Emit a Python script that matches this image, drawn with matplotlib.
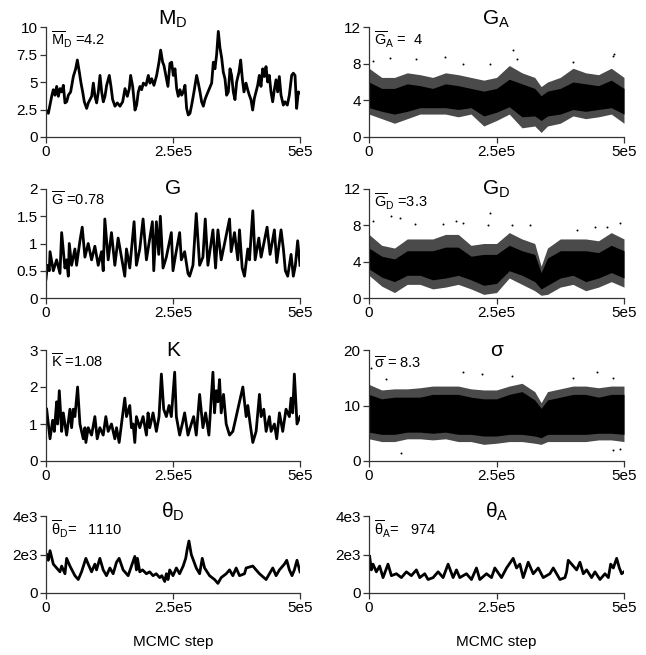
import matplotlib
matplotlib.use("Agg")
import matplotlib.pyplot as plt
import numpy as np

plt.rcParams['font.family'] = ['Liberation Sans', 'DejaVu Sans']
plt.rcParams['mathtext.fontset'] = 'custom'
plt.rcParams['mathtext.rm'] = 'Liberation Sans'
plt.rcParams['mathtext.it'] = 'Liberation Sans'
plt.rcParams['mathtext.bf'] = 'Liberation Sans:bold'

# ---------------- data (MCMC step in thousands) ----------------
md_steps = [0, 4.6, 7.9, 11.2, 14.4, 17.7, 21.0, 24.3, 27.6, 30.8, 34.1, 37.4, 40.7, 44.0, 48.5, 53.8,
            58.4, 61.7, 65.6, 68.9, 72.2, 75.4, 80.0, 83.3, 86.6, 89.9, 93.2, 96.4, 99.7, 103.0, 106.3,
            109.6, 112.8, 116.1, 119.4, 124.6, 127.9, 131.2, 135.8, 140.4, 145.6, 150.9, 155.5, 160.1,
            164.0, 166.6, 170.6, 175.2, 178.4, 181.7, 185.0, 188.3, 191.6, 196.8, 201.4, 204.7, 208.0,
            212.5, 217.8, 222.4, 225.7, 229.6, 232.2, 236.2, 240.0,
            244.0, 247.3, 250.6, 253.9, 257.2, 260.4, 263.7, 267.0, 270.3, 273.6, 276.8, 280.1, 283.4,
            286.7, 291.3, 296.5, 299.8, 303.1, 306.4, 309.7, 312.9, 316.2, 321.5, 326.1, 329.4, 332.6,
            335.9, 339.2, 342.5, 345.8, 349.0, 352.3, 355.6, 358.9, 362.2, 365.4, 368.7, 372.0, 375.3,
            379.9, 383.2, 386.5, 389.7, 393.7, 397.0, 400.3, 403.5, 406.8, 410.1, 413.4, 416.7, 419.9,
            423.2, 426.5, 429.8, 433.1, 436.3, 439.6, 442.9, 446.2, 449.5, 452.8, 456.0, 459.3, 462.6,
            467.2, 470.4, 475.0, 479.0, 483.6, 486.9, 490.2, 493.4, 496.7, 500]
md_vals = [2.45, 2.15, 2.9, 3.7, 4.3, 3.8, 4.6, 3.7, 4.4, 4.1, 4.7, 3.1, 3.2, 3.8, 4.1, 5.5, 6.2, 7.0,
           5.9, 4.9, 4.1, 3.2, 2.6, 3.1, 3.4, 3.7, 4.9, 3.7, 3.1, 4.1, 5.6, 4.1, 3.2, 3.7, 4.7, 5.6,
           4.6, 3.4, 2.8, 3.1, 2.8, 3.2, 4.4, 3.7, 4.4, 5.6, 4.6, 2.45, 2.9, 4.1, 4.6, 4.3, 4.9, 4.7,
           5.6, 4.9, 5.3, 4.7, 5.6, 6.8, 7.9, 6.8, 6.5, 5.5, 4.6,
           6.7, 6.8, 5.6, 6.2, 4.4, 3.7, 4.3, 3.8, 4.1, 4.7, 2.6, 2.0, 2.15, 2.9, 4.1, 5.6, 4.9, 4.1,
           3.2, 2.8, 3.4, 3.8, 4.4, 4.9, 6.8, 6.2, 7.5, 9.6, 8.1, 7.2, 5.9, 5.3, 3.8, 4.1, 6.2, 5.6,
           4.1, 3.4, 5.0, 5.9, 7.0, 5.3, 4.1, 4.9, 4.3, 3.8, 3.4, 2.45, 3.5, 4.1, 4.7, 5.6, 4.6, 6.2,
           5.5, 6.4, 5.0, 5.6, 4.1, 3.2, 4.3, 5.2, 4.1, 5.5, 3.8, 2.9, 3.2, 2.9, 3.8, 5.6, 5.8, 5.6,
           2.6, 4.1, 4.0]

g_steps = [0, 2.6, 6.5, 7.9, 14.4, 20.9, 27.5, 30.8, 37.3, 40.6, 43.9, 45.8, 50.4, 56.9, 60.2, 66.8,
           71.3, 76.6, 83.1, 89.7, 96.2, 102.8, 109.3, 112.6, 115.8, 122.4, 128.9, 135.5, 142.0, 155.1,
           158.4, 164.9, 173.4, 178.0, 184.6, 191.1, 197.7, 209.4, 212.1, 217.3, 221.9, 225.1, 230.4,
           236.9, 246.7, 250.0, 255.3, 263.1, 266.4, 272.9, 279.5, 282.7, 289.3, 295.8, 302.4, 308.9,
           313.5, 318.7, 328.6, 333.8, 338.4, 344.9, 351.5, 361.3, 364.5, 371.1, 377.6, 380.9, 386.2,
           390.7, 397.2, 400.6, 407.1, 411.7, 418.9, 423.4, 435.2, 441.1, 449.6, 454.2, 462.7, 467.3,
           471.2, 475.8, 482.4, 486.9, 490.9, 495.4, 500]
g_vals = [0.35, 0.6, 0.5, 0.85, 0.5, 0.7, 0.45, 1.2, 0.55, 0.7, 0.4, 1.0, 0.6, 0.9, 0.6, 1.05, 1.3,
          0.75, 1.0, 0.7, 0.95, 0.6, 0.85, 0.5, 1.45, 0.7, 1.2, 0.6, 1.1, 0.4, 0.9, 0.55, 1.4, 0.6,
          0.9, 1.45, 0.7, 1.4, 0.5, 1.4, 0.8, 1.5, 0.55, 0.75, 1.2, 0.5, 0.8, 1.2, 0.7, 0.85, 0.45,
          0.4, 0.6, 1.55, 0.6, 0.75, 1.45, 0.6, 1.25, 0.55, 1.25, 0.7, 1.0, 1.45, 0.85, 1.2, 0.7,
          1.25, 0.55, 0.4, 0.9, 0.7, 1.6, 0.7, 1.1, 0.75, 1.3, 0.8, 1.25, 0.65, 1.25, 0.9, 0.5, 0.4,
          0.8, 0.4, 0.6, 1.05, 0.6]

k_steps = [1.3, 7.9, 13.1, 16.4, 20.9, 22.9, 26.2, 30.8, 34.0, 40.6, 47.1, 50.4, 53.7, 56.9, 62.2,
           66.8, 73.3, 76.6, 78.5, 83.1, 89.7, 96.2, 100.8, 106.0, 112.6, 117.8, 122.4, 128.9, 135.5,
           138.8, 144.0, 148.6, 155.1, 158.4, 164.9, 168.2, 171.5, 174.8, 178.0, 184.6, 191.1, 197.7,
           200.9, 204.2, 210.7, 217.3, 222.5, 227.1, 231.7, 236.9, 242.2, 246.7, 253.3, 256.6, 263.1,
           268.3, 272.9, 279.5, 286.0, 290.6, 295.8, 302.4, 308.9, 314.2, 320.7, 328.6, 331.8, 335.1,
           338.4, 341.6, 344.9, 349.5, 354.7, 361.3, 367.8, 374.4, 380.9, 387.5, 394.0, 397.3, 401.9,
           407.1, 413.6, 420.2, 423.5, 428.7, 433.3, 439.8, 443.1, 449.6, 454.2, 459.5, 466.0, 472.5,
           479.1, 482.4, 485.6, 488.9, 494.1, 500]
k_vals = [1.4, 0.6, 1.1, 0.8, 1.6, 1.0, 1.9, 0.8, 1.3, 0.7, 1.4, 0.9, 1.4, 1.2, 2.0, 1.0, 0.6, 0.9,
          0.5, 0.9, 0.7, 1.2, 0.6, 0.9, 0.7, 1.2, 0.8, 1.0, 0.6, 0.9, 0.5, 1.0, 1.7, 1.2, 1.5, 0.9,
          1.0, 0.5, 1.2, 0.9, 1.2, 0.7, 1.3, 0.9, 1.3, 0.8, 1.2, 2.35, 1.4, 1.2, 1.5, 1.2, 2.4, 1.2,
          0.7, 1.0, 1.3, 0.7, 1.0, 1.2, 0.7, 1.8, 0.9, 1.3, 0.7, 2.4, 1.3, 1.9, 1.6, 2.2, 1.3, 1.8,
          1.0, 0.7, 0.8, 1.2, 1.6, 2.0, 1.2, 1.5, 1.0, 0.5, 0.8, 1.8, 1.2, 1.4, 0.8, 1.2, 0.8, 1.0,
          0.6, 1.3, 0.8, 1.4, 1.2, 1.7, 1.3, 2.35, 1.0, 1.2]

thd_steps = [1.3, 4.6, 7.9, 14.4, 20.9, 27.5, 30.8, 37.3, 40.6, 47.1, 56.9, 63.5, 70.0, 78.5, 83.1,
             89.7, 96.2, 99.5, 106.0, 112.6, 119.1, 125.7, 132.2, 138.8, 144.0, 151.8, 161.7, 174.8,
             178.0, 180.0, 184.6, 190.0, 197.7, 204.0, 210.7, 217.0, 223.8, 228.0, 233.7, 236.9, 240.2,
             243.5, 250.0, 256.6, 263.0, 270.0, 275.0, 278.2, 281.4, 286.0, 295.8, 302.4, 307.6, 312.2,
             322.0, 331.8, 338.4, 344.9, 354.7, 361.3, 367.8, 374.4, 380.9, 390.7, 394.0, 407.1, 413.6,
             420.2, 433.3, 439.8, 446.4, 452.9, 459.5, 469.3, 473.9, 479.1, 484.3, 488.9, 494.1, 500]
thd_vals = [2000, 1700, 2200, 1500, 1300, 1100, 1400, 1000, 1800, 1400, 900, 700, 1100, 1800, 1500,
            1100, 1500, 1200, 1800, 1200, 900, 1300, 1000, 1600, 1800, 1200, 900, 1900, 1200, 1800,
            1100, 1200, 1000, 1100, 900, 1000, 800, 900, 600, 1000, 700, 1200, 900, 1300, 1000, 1400,
            1800, 2300, 2700, 2000, 1300, 1000, 1800, 1300, 900, 700, 500, 800, 1000, 1200, 900, 1300,
            900, 1000, 1300, 1400, 1200, 1000, 700, 1000, 1300, 900, 1200, 1500, 1700, 1200, 900,
            1200, 1700, 1100]

tha_steps = [1.3, 4.6, 7.9, 14.4, 20.9, 27.5, 37.3, 43.9, 53.7, 63.5, 73.3, 83.1, 92.9, 99.5, 109.3,
             115.8, 125.7, 135.5, 145.3, 155.1, 164.9, 171.5, 178.0, 191.1, 200.9, 210.7, 217.3, 230.4,
             240.2, 246.7, 259.8, 269.7, 282.7, 289.3, 295.8, 302.4, 312.2, 322.0, 331.8, 341.6, 354.7,
             361.3, 374.4, 384.2, 387.5, 390.7, 400.6, 407.1, 413.6, 420.2, 426.7, 436.5, 443.1, 452.9,
             462.7, 469.3, 473.9, 479.1, 485.6, 490.9, 495.4, 500]
tha_vals = [1900, 1200, 1500, 1100, 1400, 800, 1500, 900, 1000, 800, 1100, 900, 1200, 800, 1000, 700,
            800, 1100, 800, 1500, 800, 1200, 800, 1000, 700, 1300, 700, 1000, 800, 1300, 800, 1300,
            1800, 1300, 1500, 800, 1600, 1000, 1300, 800, 1000, 1300, 700, 800, 1100, 1700, 1400,
            1200, 1600, 1000, 1200, 800, 1100, 700, 1000, 800, 1500, 1300, 1800, 1300, 1000, 1100]

# dense (scatter-like) traces: envelopes
band_steps = [0, 25, 50, 75, 100, 125, 150, 175, 200, 225, 250, 275, 300, 325, 337.5, 350, 375, 400,
              425, 450, 475, 500]
ga_hi = [7.5, 6.5, 6.5, 7.0, 6.8, 6.5, 7.0, 6.8, 6.5, 6.2, 6.5, 7.8, 7.0, 6.5, 5.5, 6.0, 6.5, 7.5,
         7.0, 6.8, 7.5, 6.5]
ga_lo = [2.5, 2.0, 1.5, 2.0, 2.5, 2.5, 2.5, 2.2, 2.5, 1.2, 1.8, 2.5, 1.0, 1.2, 0.5, 1.2, 1.5, 2.3,
         2.0, 2.2, 2.5, 1.5]
ga_core_hi = [6.0, 5.3, 5.3, 5.8, 5.6, 5.3, 5.8, 5.6, 5.3, 5.0, 5.3, 6.3, 5.8, 5.3, 4.5, 5.0, 5.3,
              6.0, 5.8, 5.6, 6.2, 5.3]
ga_core_lo = [3.2, 2.8, 2.5, 2.8, 3.2, 3.2, 3.2, 3.0, 3.2, 2.3, 2.7, 3.3, 2.2, 2.3, 1.8, 2.3, 2.5,
              3.0, 2.8, 3.0, 3.2, 2.5]
ga_out_steps = [7.9, 40.6, 92.9, 148.6, 184.6, 236.9, 281.4, 289.3, 400.6, 479.1, 481.1]
ga_out_vals = [8.3, 8.6, 8.5, 8.7, 8.0, 8.0, 9.5, 8.5, 8.2, 8.8, 9.1]

gd_hi = [7.0, 5.8, 5.5, 6.5, 6.5, 6.5, 7.0, 7.0, 5.8, 6.0, 6.0, 7.2, 6.5, 6.0, 3.5, 5.5, 6.5, 6.5,
         6.5, 6.3, 7.2, 6.5]
gd_lo = [2.5, 1.3, 0.6, 1.5, 1.5, 1.0, 1.2, 1.5, 1.0, 0.4, 0.6, 2.2, 1.5, 0.8, 0.3, 0.4, 1.2, 1.5,
         0.8, 1.2, 1.8, 1.2]
gd_core_hi = [5.5, 4.6, 4.3, 5.2, 5.2, 5.2, 5.6, 5.6, 4.6, 4.8, 4.8, 5.8, 5.2, 4.8, 2.8, 4.4, 5.2,
              5.2, 5.2, 5.0, 5.8, 5.2]
gd_core_lo = [3.2, 2.3, 1.8, 2.5, 2.5, 2.0, 2.2, 2.5, 2.0, 1.4, 1.6, 3.0, 2.5, 1.8, 1.0, 1.4, 2.2,
              2.5, 1.8, 2.2, 2.8, 2.2]
gd_out_steps = [7.9, 43.9, 60.2, 89.7, 145.3, 171.5, 184.6, 233.7, 238.2, 279.5, 315.5, 407.1, 443.1,
                466.0, 492.2]
gd_out_vals = [8.5, 9.0, 8.8, 8.1, 8.2, 8.5, 8.3, 8.0, 9.4, 8.0, 8.0, 7.5, 7.8, 7.8, 8.3]

sg_hi = [13.8, 12.8, 13.0, 13.0, 13.2, 13.5, 13.5, 13.5, 13.0, 12.8, 12.8, 13.5, 14.0, 12.5, 10.5,
         12.5, 13.0, 13.5, 13.5, 13.2, 13.5, 13.5]
sg_lo = [4.0, 3.5, 3.5, 4.0, 4.0, 3.8, 4.0, 3.5, 3.5, 3.0, 3.2, 3.5, 3.5, 3.2, 3.0, 3.5, 3.5, 3.5,
         3.5, 3.8, 3.8, 3.5]
sg_core_hi = [12.0, 11.2, 11.5, 11.5, 11.5, 12.0, 12.0, 12.0, 11.5, 11.2, 11.2, 12.0, 12.5, 11.0,
              9.5, 11.0, 11.5, 12.0, 12.0, 11.5, 12.0, 12.0]
sg_core_lo = [5.2, 4.8, 4.8, 5.2, 5.2, 5.0, 5.2, 4.8, 4.8, 4.5, 4.5, 4.8, 4.8, 4.5, 4.2, 4.8, 4.8,
              4.8, 4.8, 5.0, 5.0, 4.8]
sg_out_steps = [4.6, 34.0, 184.6, 220.6, 279.5, 400.6, 446.4, 479.1, 63.5, 479.1, 492.2]
sg_out_vals = [16.7, 14.8, 16.0, 15.6, 15.3, 15.0, 16.0, 15.0, 1.5, 2.0, 2.2]

x_ticks = [0, 250000, 500000]
x_ticklabels = ['0', '2.5e5', '5e5']

# ---------------- figure ----------------
W, H = 646, 655
fig = plt.figure(figsize=(W / 100, H / 100), dpi=100)


def make_ax(left_px, top_px, right_px, bottom_px):
    return fig.add_axes([left_px / W, 1 - bottom_px / H, (right_px - left_px) / W,
                         (bottom_px - top_px) / H])


def style(ax, ylim, yticks, yticklabels, title, annot, ann_y, title_y):
    ax.set_xlim(0, 500000)
    ax.set_ylim(*ylim)
    ax.set_xticks(x_ticks)
    ax.set_xticklabels(x_ticklabels)
    ax.set_yticks(yticks)
    ax.set_yticklabels(yticklabels)
    for s in ['top', 'right']:
        ax.spines[s].set_visible(False)
    for s in ['left', 'bottom']:
        ax.spines[s].set_color('#333333')
        ax.spines[s].set_linewidth(0.9)
    ax.tick_params(axis='both', direction='out', length=4, width=0.9, color='#333333',
                   labelsize=11, pad=2)
    ax.text(0.5, title_y, title, transform=ax.transAxes, ha='center', va='center', fontsize=15)
    ax.text(0.02, ann_y, annot, transform=ax.transAxes, ha='left', va='center', fontsize=10.5)


def line_panel(ax, steps, vals):
    ax.plot(np.array(steps) * 1000, vals, color='black', lw=2.0, solid_joinstyle='round')


def band_panel(ax, hi, lo, chi, clo, osteps, ovals):
    xs = np.array(band_steps) * 1000
    ax.fill_between(xs, lo, hi, color='#4a4a4a', lw=0)
    ax.fill_between(xs, clo, chi, color='black', lw=0)
    ax.scatter(np.array(osteps) * 1000, ovals, s=2, color='black', lw=0)


L0, L1 = 46, 300
R0, R1 = 369, 624
rows = [(27, 137), (189, 298), (350, 461), (516, 593)]

# Row 1
ax = make_ax(L0, rows[0][0], L1, rows[0][1])
line_panel(ax, md_steps, md_vals)
style(ax, (0, 10), [0, 2.5, 5, 7.5, 10], ['0', '2.5', '5', '7.5', '10'],
      r'M$_{\mathrm{D}}$', r'$\overline{\mathrm{M}}_{\mathrm{D}}$ =4.2', 0.88, 1.07)

ax = make_ax(R0, rows[0][0], R1, rows[0][1])
band_panel(ax, ga_hi, ga_lo, ga_core_hi, ga_core_lo, ga_out_steps, ga_out_vals)
style(ax, (0, 12), [0, 4, 8, 12], ['0', '4', '8', '12'],
      r'G$_{\mathrm{A}}$', r'$\overline{\mathrm{G}}_{\mathrm{A}}$ =  4', 0.88, 1.07)

# Row 2
ax = make_ax(L0, rows[1][0], L1, rows[1][1])
line_panel(ax, g_steps, g_vals)
style(ax, (0, 2), [0, 0.5, 1, 1.5, 2], ['0', '0.5', '1', '1.5', '2'],
      'G', r'$\overline{\mathrm{G}}$ =0.78', 0.9, 1.0)

ax = make_ax(R0, rows[1][0], R1, rows[1][1])
band_panel(ax, gd_hi, gd_lo, gd_core_hi, gd_core_lo, gd_out_steps, gd_out_vals)
style(ax, (0, 12), [0, 4, 8, 12], ['0', '4', '8', '12'],
      r'G$_{\mathrm{D}}$', r'$\overline{\mathrm{G}}_{\mathrm{D}}$ =3.3', 0.88, 1.0)

# Row 3
ax = make_ax(L0, rows[2][0], L1, rows[2][1])
line_panel(ax, k_steps, k_vals)
style(ax, (0, 3), [0, 1, 2, 3], ['0', '1', '2', '3'],
      'K', r'$\overline{\mathrm{K}}$ =1.08', 0.9, 1.0)

ax = make_ax(R0, rows[2][0], R1, rows[2][1])
band_panel(ax, sg_hi, sg_lo, sg_core_hi, sg_core_lo, sg_out_steps, sg_out_vals)
style(ax, (0, 20), [0, 10, 20], ['0', '10', '20'],
      'σ', r'$\overline{\sigma}$ = 8.3', 0.88, 1.0)

# Row 4
ax = make_ax(L0, rows[3][0], L1, rows[3][1])
line_panel(ax, thd_steps, thd_vals)
style(ax, (0, 4000), [0, 2000, 4000], ['0', '2e3', '4e3'],
      r'$\theta_{\mathrm{D}}$', r'$\overline{\theta}_{\mathrm{D}}$=   1110', 0.82, 1.05)
ax.set_xlabel('MCMC step', fontsize=11, labelpad=14)

ax = make_ax(R0, rows[3][0], R1, rows[3][1])
line_panel(ax, tha_steps, tha_vals)
style(ax, (0, 4000), [0, 2000, 4000], ['0', '2e3', '4e3'],
      r'$\theta_{\mathrm{A}}$', r'$\overline{\theta}_{\mathrm{A}}$=   974', 0.82, 1.05)
ax.set_xlabel('MCMC step', fontsize=11, labelpad=14)

fig.savefig('out.png', dpi=100, facecolor='white')
